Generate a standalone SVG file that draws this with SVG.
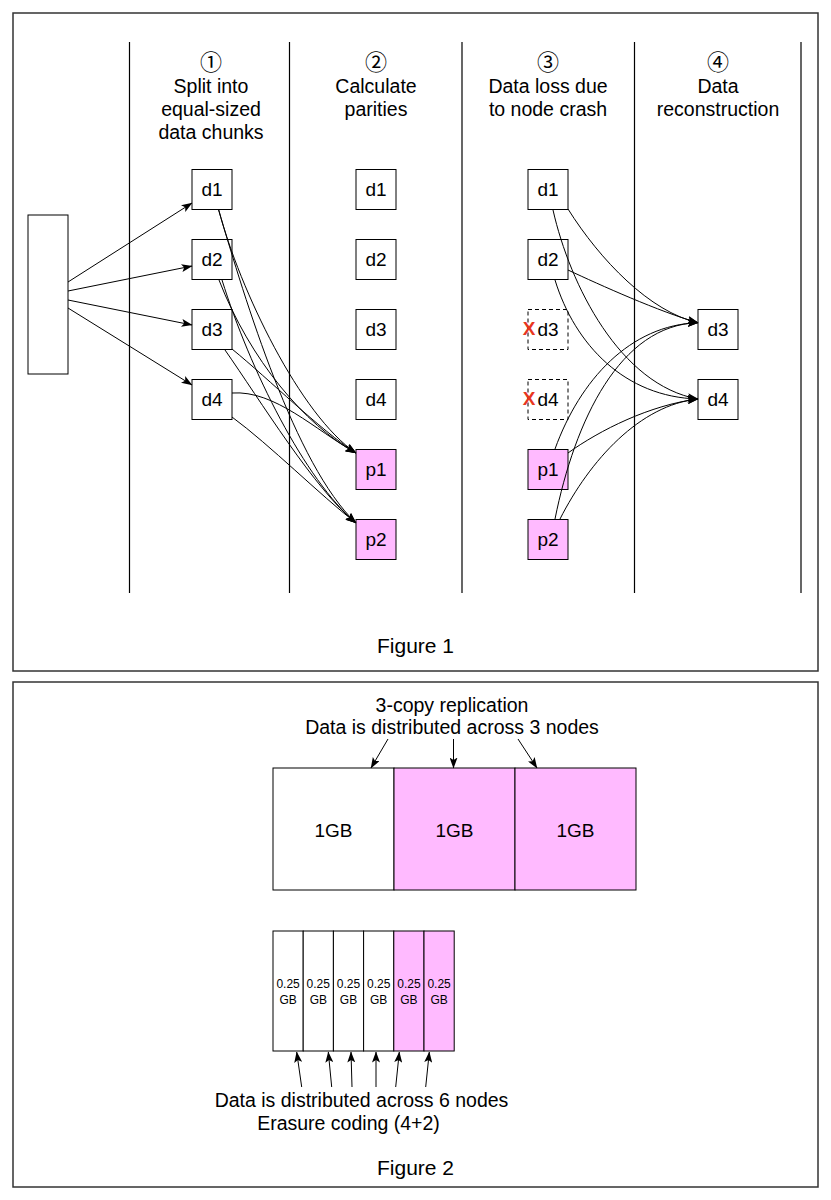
<svg xmlns="http://www.w3.org/2000/svg" width="831" height="1200" viewBox="0 0 831 1200">
<style>
text{font-family:"Liberation Sans",Arial,Helvetica,"DejaVu Sans",sans-serif;fill:#000}
.h{font-size:19.5px;text-anchor:middle}
.num{font-family:"Noto Sans CJK JP","DejaVu Sans",sans-serif;font-size:22px;text-anchor:middle}
.n{font-size:19px;text-anchor:middle}
.cap{font-size:21px;text-anchor:middle}
.sm{font-size:12px;text-anchor:middle}
.box{fill:#fff;stroke:#000;stroke-width:1}
.pink{fill:#FFBAFF;stroke:#000;stroke-width:1}
.dash{fill:#fff;stroke:#000;stroke-width:1;stroke-dasharray:4 3}
.frame{fill:#fff;stroke:#333;stroke-width:1.5}
.lane{stroke:#000;stroke-width:1.2}
.e{fill:none;stroke:#000;stroke-width:1;marker-end:url(#arr)}
.x{fill:#E8361E;font-size:19px;font-weight:bold;text-anchor:middle}
</style>
<defs>
<marker id="arr" viewBox="0 0 11 8" refX="10.5" refY="4" markerWidth="11" markerHeight="8" markerUnits="userSpaceOnUse" orient="auto">
<path d="M0,0 L11,4 L0,8 L2.5,4 z" fill="#000"/>
</marker>
</defs>
<rect width="831" height="1200" fill="#fff"/>

<g id="figure1-frame">
<rect class="frame" x="13" y="13" width="805" height="658"/>
<line class="lane" x1="129.5" y1="42" x2="129.5" y2="593"/>
<line class="lane" x1="289.5" y1="42" x2="289.5" y2="593"/>
<line class="lane" x1="462" y1="42" x2="462" y2="593"/>
<line class="lane" x1="634.5" y1="42" x2="634.5" y2="593"/>
<line class="lane" x1="801" y1="42" x2="801" y2="593"/>
<text class="cap" x="415.5" y="653">Figure 1</text>
</g>

<g id="figure2-frame">
<rect class="frame" x="13" y="682" width="805" height="505"/>
<text class="h" x="452" y="712">3-copy replication</text>
<text class="h" x="452" y="734">Data is distributed across 3 nodes</text>
<text class="h" x="361.5" y="1107">Data is distributed across 6 nodes</text>
<text class="h" x="348.5" y="1130">Erasure coding (4+2)</text>
<text class="cap" x="415.5" y="1175">Figure 2</text>
</g>

<g id="headers">
<text class="num" x="211" y="70">①</text>
<text class="h" x="211" y="93">Split into</text>
<text class="h" x="211" y="116">equal-sized</text>
<text class="h" x="211" y="139">data chunks</text>
<text class="num" x="376" y="70">②</text>
<text class="h" x="376" y="93">Calculate</text>
<text class="h" x="376" y="116">parities</text>
<text class="num" x="548" y="70">③</text>
<text class="h" x="548" y="93">Data loss due</text>
<text class="h" x="548" y="116">to node crash</text>
<text class="num" x="718" y="70">④</text>
<text class="h" x="718" y="93">Data</text>
<text class="h" x="718" y="116">reconstruction</text>
</g>

<g id="input"><rect class="box" x="28" y="215" width="40" height="159"/></g>

<g id="c1-d1"><rect class="box" x="192" y="169.5" width="40" height="40"/><text class="n" x="212" y="196">d1</text></g>
<g id="c1-d2"><rect class="box" x="192" y="239.5" width="40" height="40"/><text class="n" x="212" y="266">d2</text></g>
<g id="c1-d3"><rect class="box" x="192" y="309.5" width="40" height="40"/><text class="n" x="212" y="336">d3</text></g>
<g id="c1-d4"><rect class="box" x="192" y="379.5" width="40" height="40"/><text class="n" x="212" y="406">d4</text></g>

<g id="c2-d1"><rect class="box" x="356" y="169.5" width="40" height="40"/><text class="n" x="376" y="196">d1</text></g>
<g id="c2-d2"><rect class="box" x="356" y="239.5" width="40" height="40"/><text class="n" x="376" y="266">d2</text></g>
<g id="c2-d3"><rect class="box" x="356" y="309.5" width="40" height="40"/><text class="n" x="376" y="336">d3</text></g>
<g id="c2-d4"><rect class="box" x="356" y="379.5" width="40" height="40"/><text class="n" x="376" y="406">d4</text></g>
<g id="c2-p1"><rect class="pink" x="356" y="449.5" width="40" height="40"/><text class="n" x="376" y="476">p1</text></g>
<g id="c2-p2"><rect class="pink" x="356" y="519.5" width="40" height="40"/><text class="n" x="376" y="546">p2</text></g>

<g id="c3-d1"><rect class="box" x="528" y="169.5" width="40" height="40"/><text class="n" x="548" y="196">d1</text></g>
<g id="c3-d2"><rect class="box" x="528" y="239.5" width="40" height="40"/><text class="n" x="548" y="266">d2</text></g>
<g id="c3-d3"><rect class="dash" x="528" y="309.5" width="40" height="40"/><text class="n" x="548" y="336">d3</text><text class="x" x="529" y="335">X</text></g>
<g id="c3-d4"><rect class="dash" x="528" y="379.5" width="40" height="40"/><text class="n" x="548" y="406">d4</text><text class="x" x="529" y="405">X</text></g>
<g id="c3-p1"><rect class="pink" x="528" y="449.5" width="40" height="40"/><text class="n" x="548" y="476">p1</text></g>
<g id="c3-p2"><rect class="pink" x="528" y="519.5" width="40" height="40"/><text class="n" x="548" y="546">p2</text></g>

<g id="c4-d3"><rect class="box" x="698" y="309.5" width="40" height="40"/><text class="n" x="718" y="336">d3</text></g>
<g id="c4-d4"><rect class="box" x="698" y="379.5" width="40" height="40"/><text class="n" x="718" y="406">d4</text></g>

<g id="rep1"><rect class="box" x="273" y="768" width="121" height="122"/><text class="n" x="333.5" y="837">1GB</text></g>
<g id="rep2"><rect class="pink" x="394" y="768" width="121" height="122"/><text class="n" x="454.5" y="837">1GB</text></g>
<g id="rep3"><rect class="pink" x="515" y="768" width="121" height="122"/><text class="n" x="575.5" y="837">1GB</text></g>

<g id="ec1"><rect class="box" x="273" y="931" width="30.2" height="120"/><text class="sm" x="288.1" y="987.5">0.25</text><text class="sm" x="288.1" y="1003.5">GB</text></g>
<g id="ec2"><rect class="box" x="303.2" y="931" width="30.2" height="120"/><text class="sm" x="318.3" y="987.5">0.25</text><text class="sm" x="318.3" y="1003.5">GB</text></g>
<g id="ec3"><rect class="box" x="333.4" y="931" width="30.2" height="120"/><text class="sm" x="348.5" y="987.5">0.25</text><text class="sm" x="348.5" y="1003.5">GB</text></g>
<g id="ec4"><rect class="box" x="363.6" y="931" width="30.2" height="120"/><text class="sm" x="378.7" y="987.5">0.25</text><text class="sm" x="378.7" y="1003.5">GB</text></g>
<g id="ec5"><rect class="pink" x="393.8" y="931" width="30.2" height="120"/><text class="sm" x="408.9" y="987.5">0.25</text><text class="sm" x="408.9" y="1003.5">GB</text></g>
<g id="ec6"><rect class="pink" x="424" y="931" width="30.2" height="120"/><text class="sm" x="439.1" y="987.5">0.25</text><text class="sm" x="439.1" y="1003.5">GB</text></g>

<g id="connectors">
<path class="e" d="M68,282 L192,203"/>
<path class="e" d="M68,291 L192,266"/>
<path class="e" d="M68,300 L192,325"/>
<path class="e" d="M68,308 L192,385"/>

<path class="e" d="M218.7,210 C240,290 300,415 356,453"/>
<path class="e" d="M218.7,210 C245,300 295,465 356,523"/>
<path class="e" d="M219,280 C250,360 305,425 356,453"/>
<path class="e" d="M222,280 C250,370 305,480 356,523"/>
<path class="e" d="M232,349 C270,380 320,430 356,453"/>
<path class="e" d="M225,350 C260,400 315,490 356,523"/>
<path class="e" d="M232,393 C275,390 315,430 356,453"/>
<path class="e" d="M232,417 C270,445 320,495 356,523"/>

<path class="e" d="M568,209 C600,260 650,312 698,322.7"/>
<path class="e" d="M553,210 C570,285 620,385 698,399"/>
<path class="e" d="M568,270 C600,285 660,312 698,322.7"/>
<path class="e" d="M555,280 C575,345 625,397 698,399"/>
<path class="e" d="M555,449 C580,380 630,325 698,322.7"/>
<path class="e" d="M568,453 C600,430 650,405 698,399"/>
<path class="e" d="M555,519 C575,420 620,325 698,322.7"/>
<path class="e" d="M560,519 C590,460 640,405 698,399"/>

<path class="e" d="M388,739 L371,768"/>
<path class="e" d="M453.5,739 L453.5,768"/>
<path class="e" d="M518,739 L537,768"/>

<path class="e" d="M301.7,1087 L296.7,1052"/>
<path class="e" d="M331.7,1087 L328.3,1052"/>
<path class="e" d="M352,1087 L351,1052"/>
<path class="e" d="M376,1087 L376,1052"/>
<path class="e" d="M395.7,1087 L399.3,1052"/>
<path class="e" d="M425.7,1087 L429.3,1052"/>
</g>
</svg>
